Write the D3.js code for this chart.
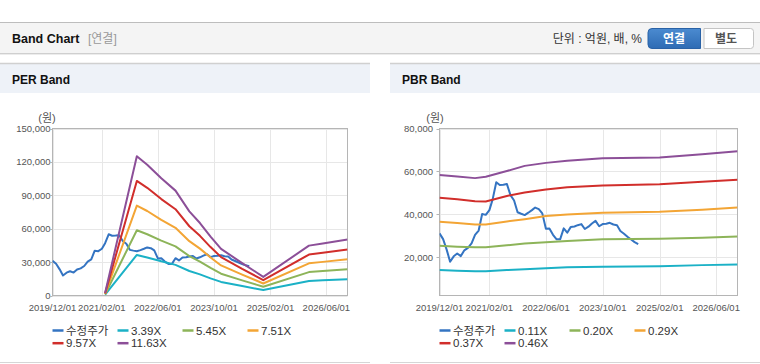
<!DOCTYPE html>
<html><head><meta charset="utf-8">
<script src="https://cdn.jsdelivr.net/npm/d3@7/dist/d3.min.js"></script>
<style>
body{margin:0;background:#fff;font-family:"Liberation Sans",Arial,"Noto Sans CJK KR",sans-serif;}
svg{display:block}
</style></head><body>
<svg id="c" width="760" height="364"></svg>
<script>
// ---------- data ----------
const priceDates = ["2019-12","2020-01","2020-02","2020-03","2020-04","2020-05","2020-06","2020-07","2020-08","2020-09","2020-10","2020-11","2020-12",
 "2021-01","2021-02","2021-03","2021-04","2021-05","2021-06","2021-07","2021-08","2021-09","2021-10","2021-11","2021-12",
 "2022-01","2022-02","2022-03","2022-04","2022-05","2022-06","2022-07","2022-08","2022-09","2022-10","2022-11","2022-12",
 "2023-01","2023-02","2023-03","2023-04","2023-05","2023-06","2023-07","2023-08","2023-09","2023-10","2023-11","2023-12",
 "2024-01","2024-02","2024-03","2024-04","2024-05","2024-06","2024-07","2024-08"];
const priceValues = [31200,28500,23500,18000,20500,21800,20600,23300,24400,26500,30500,32500,40200,
 39800,42000,47000,55000,53700,53800,54200,49000,46500,41000,40300,39700,
 40800,42000,43200,42500,40500,33300,33500,30500,28400,28400,33500,31500,
 34200,34400,35000,35500,33200,34300,35800,37000,34500,35500,35700,36100,
 35300,35000,32300,31000,29600,28300,27100,26200];

const perDates = ["2021-03","2021-12","2022-03","2022-07","2022-11","2023-03","2023-06","2023-09","2023-12","2024-06","2024-10","2024-12","2026-01","2026-05","2026-12"];
const per339  = [700, 36400, 34200, 30700, 27500, 22000, 19000, 15400, 12200, 8500, 6100, 4900, 13100, 13600, 14700];
const per545  = [1100, 58600, 55000, 49300, 44100, 35400, 30500, 24800, 19600, 13600, 9800, 7800, 21000, 21900, 23600];
const per751  = [1500, 80700, 75900, 68000, 60800, 48800, 42100, 34200, 27000, 18800, 13500, 10800, 28900, 30200, 32500];
const per957  = [1900, 102900, 96700, 86600, 77500, 62200, 53600, 43500, 34500, 23900, 17200, 13800, 36800, 38500, 41400];
const per1163 = [2300, 125000, 117500, 105300, 94200, 75600, 65100, 52900, 41900, 29100, 20900, 16700, 44800, 46800, 50400];

const pbrDates = ["2019-12","2020-05","2020-10","2021-01","2021-07","2021-12","2022-06","2022-12","2023-10","2025-02","2026-02","2026-12"];
const pbr011 = [14100,13800,13600,13600,14100,14500,15000,15400,15600,15900,16400,16700];
const pbr020 = [25400,25000,24700,24700,25600,26500,27100,27600,28500,28700,29200,29700];
const pbr029 = [36600,36000,35300,35300,36700,37800,39300,40000,40800,41300,42200,43200];
const pbr037 = [47800,47100,46100,46000,48600,50200,51600,52600,53500,54100,55200,56200];
const pbr046 = [58400,57600,56900,57500,60200,62600,64000,65000,66200,66500,68000,69400];

const xTickDates = ["2019-12-01","2021-02-01","2022-06-01","2023-10-01","2025-02-01","2026-06-01"];
const xDomain = ["2019-12-01","2026-12-01"];
const perYTicks = [0,30000,60000,90000,120000,150000];
const pbrYTicks = [20000,40000,60000,80000];
const perLegend = ["수정주가","3.39X","5.45X","7.51X","9.57X","11.63X"];
const pbrLegend = ["수정주가","0.11X","0.20X","0.29X","0.37X","0.46X"];
const colors = ["#3474c2","#1bb1c6","#8db459","#f3a535","#d12e2b","#8c4f98"];

// ---------- drawing ----------
const svg = d3.select("#c");
const pm = d3.timeParse("%Y-%m"), pd = d3.timeParse("%Y-%m-%d");
const fmtX = d3.timeFormat("%Y/%m/%d"), fmtY = d3.format(",");

// top bar
svg.append("rect").attr("x",0).attr("y",22).attr("width",760).attr("height",31).attr("fill","#f4f4f4");
svg.append("line").attr("x1",0).attr("x2",760).attr("y1",22.5).attr("y2",22.5).attr("stroke","#bdbdbd");
svg.append("line").attr("x1",0).attr("x2",760).attr("y1",53.5).attr("y2",53.5).attr("stroke","#cfcfcf");
svg.append("line").attr("x1",0).attr("x2",760).attr("y1",54.5).attr("y2",54.5).attr("stroke","#ececec");
svg.append("text").attr("x",12).attr("y",43).attr("font-size",12.5).attr("font-weight","bold").attr("fill","#111").text("Band Chart");
svg.append("text").attr("x",88).attr("y",43).attr("font-size",12).attr("fill","#999").text("[연결]");
svg.append("text").attr("x",642).attr("y",43).attr("text-anchor","end").attr("font-size",12).attr("fill","#333").text("단위 : 억원, 배, %");
const defs = svg.append("defs");
const g1 = defs.append("linearGradient").attr("id","btn").attr("x1",0).attr("x2",0).attr("y1",0).attr("y2",1);
g1.append("stop").attr("offset","0").attr("stop-color","#4b8bd0");
g1.append("stop").attr("offset","1").attr("stop-color","#2e6bb4");
svg.append("path").attr("d","M704,28.5 H750.5 a3,3 0 0 1 3,3 V45.5 a3,3 0 0 1 -3,3 H704 Z").attr("fill","#fff").attr("stroke","#c4c4c4");
svg.append("path").attr("d","M700.5,28.5 H652 a4,4 0 0 0 -4,4 V44.5 a4,4 0 0 0 4,4 H700.5 Z").attr("fill","url(#btn)").attr("stroke","#2a62a6");
svg.append("text").attr("x",674).attr("y",43).attr("text-anchor","middle").attr("font-size",12).attr("font-weight","bold").attr("fill","#fff").text("연결");
svg.append("text").attr("x",726).attr("y",43).attr("text-anchor","middle").attr("font-size",12).attr("font-weight","bold").attr("fill","#555").text("별도");

function panel(x0, w, title){
  svg.append("rect").attr("x",x0).attr("y",63).attr("width",w).attr("height",30).attr("fill","#eef2f8");
  svg.append("line").attr("x1",x0).attr("x2",x0+w).attr("y1",63.5).attr("y2",63.5).attr("stroke","#d0d0d0").attr("stroke-width",1.5);
  svg.append("line").attr("x1",x0).attr("x2",x0+w).attr("y1",362.5).attr("y2",362.5).attr("stroke","#d6d6d6");
  svg.append("text").attr("x",x0+12).attr("y",84).attr("font-size",12).attr("font-weight","bold").attr("fill","#111").text(title);
}
panel(0,370,"PER Band");
panel(390,370,"PBR Band");

function chart(cfg){
  const g = svg.append("g");
  const x = d3.scaleTime().domain(xDomain.map(pd)).range([cfg.left, cfg.right]);
  const y = d3.scaleLinear().domain(cfg.yDomain).range([295.5,128.5]);
  // grid
  g.selectAll(".hg").data(cfg.yTicks).join("line")
    .attr("x1",cfg.left).attr("x2",cfg.right).attr("y1",d=>Math.round(y(d))+0.5).attr("y2",d=>Math.round(y(d))+0.5)
    .attr("stroke","#e7e7e7");
  g.selectAll(".vg").data(xTickDates.map(pd)).join("line")
    .attr("x1",d=>Math.round(x(d))+0.5).attr("x2",d=>Math.round(x(d))+0.5).attr("y1",128.5).attr("y2",295.5)
    .attr("stroke","#e7e7e7");
  g.append("rect").attr("x",cfg.left).attr("y",128.5).attr("width",cfg.right-cfg.left).attr("height",167)
    .attr("fill","none").attr("stroke","#b5b5b5");
  // axes labels
  g.selectAll(".yl").data(cfg.yTicks).join("text")
    .attr("x",cfg.labelX).attr("y",d=>y(d)+3.5).attr("text-anchor","end").attr("font-size",9.5).attr("fill","#555")
    .text(d=>fmtY(d));
  g.selectAll(".yt").data(cfg.yTicks).join("line")
    .attr("x1",cfg.left-3).attr("x2",cfg.left).attr("y1",d=>Math.round(y(d))+0.5).attr("y2",d=>Math.round(y(d))+0.5).attr("stroke","#b5b5b5");
  g.selectAll(".xl").data(xTickDates.map(pd)).join("text")
    .attr("x",d=>x(d)).attr("y",311).attr("text-anchor","middle").attr("font-size",9.5).attr("fill","#555")
    .text(d=>fmtX(d));
  g.append("text").attr("x",cfg.unitX).attr("y",122).attr("text-anchor","middle").attr("font-size",11).attr("fill","#555").text("(원)");
  // lines
  const line = d3.line().x(d=>x(d[0])).y(d=>y(d[1]));
  const series = [d3.zip(priceDates.map(pm), priceValues)]
    .concat(cfg.bands.map(b=>d3.zip(cfg.bandDates.map(pm), b)));
  const clipId = "clip"+Math.round(cfg.left);
  defs.append("clipPath").attr("id",clipId).append("rect").attr("x",cfg.left).attr("y",127).attr("width",cfg.right-cfg.left).attr("height",169);
  g.append("g").attr("clip-path",`url(#${clipId})`).selectAll("path.s").data(series).join("path")
    .attr("d",line).attr("fill","none").attr("stroke",(d,i)=>colors[i]).attr("stroke-width",2).attr("stroke-linejoin","round");
  // legend
  const lg = g.selectAll(".lg").data(cfg.legend).join("g")
    .attr("transform",(d,i)=>`translate(${cfg.left + (i%4)*65},${330.5 + Math.floor(i/4)*12.7})`);
  lg.append("line").attr("x1",0).attr("x2",11).attr("y1",0).attr("y2",0).attr("stroke",(d,i)=>colors[i]).attr("stroke-width",2.5);
  lg.append("text").attr("x",13.5).attr("y",4).attr("font-size",11.5).attr("fill","#333").text(d=>d);
}

chart({left:52.5, right:347.5, labelX:50.5, unitX:47, yDomain:[0,150000], yTicks:perYTicks,
  bandDates:perDates, bands:[per339,per545,per751,per957,per1163], legend:perLegend});
chart({left:439.5, right:737.5, labelX:433, unitX:435, yDomain:[2260,80000], yTicks:pbrYTicks,
  bandDates:pbrDates, bands:[pbr011,pbr020,pbr029,pbr037,pbr046], legend:pbrLegend});
</script>
</body></html>
